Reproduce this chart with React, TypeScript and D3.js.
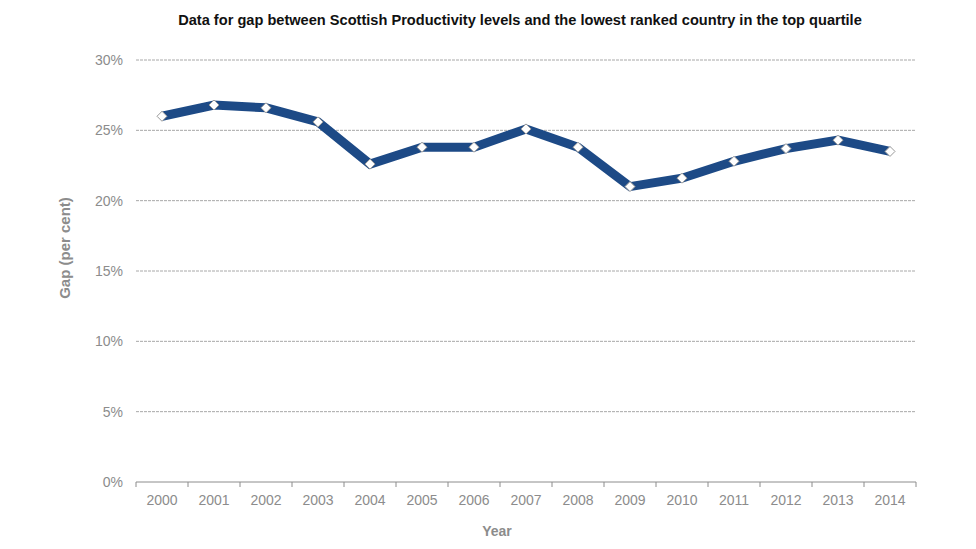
import React, { useRef, useEffect } from 'react';
import * as d3 from 'd3';

// Años y brecha (por ciento)
const years = ['2000', '2001', '2002', '2003', '2004', '2005', '2006', '2007', '2008', '2009', '2010', '2011', '2012', '2013', '2014'];
const gap = [26.0, 26.8, 26.6, 25.6, 22.6, 23.8, 23.8, 25.1, 23.8, 21.0, 21.6, 22.8, 23.7, 24.3, 23.5];
const yTicks = [0, 5, 10, 15, 20, 25, 30];

const title = 'Data for gap between Scottish Productivity levels and the lowest ranked country in the top quartile';

const App = () => {
  const ref = useRef<SVGSVGElement>(null);

  useEffect(() => {
    const svg = d3.select(ref.current);
    const width = 976;
    const height = 549;
    const margin = { top: 60, right: 60, bottom: 67, left: 136 };
    const w = width - margin.left - margin.right;
    const h = height - margin.top - margin.bottom;
    const font = 'Arial, "Liberation Sans", sans-serif';

    svg.selectAll('*').remove();

    const x = d3.scaleBand().domain(years).range([0, w]);
    const y = d3.scaleLinear().domain([0, 30]).range([h, 0]);

    const g = svg.append('g').attr('transform', `translate(${margin.left},${margin.top})`);

    // Líneas de cuadrícula
    g.append('g')
      .selectAll('line')
      .data(yTicks.filter(t => t > 0))
      .join('line')
      .attr('x1', 0)
      .attr('x2', w)
      .attr('y1', d => y(d))
      .attr('y2', d => y(d))
      .attr('stroke', '#a8a8a8')
      .attr('stroke-width', 1)
      .attr('stroke-dasharray', '3,1');

    // Eje Y (solo etiquetas)
    const yAxis = g.append('g').call(d3.axisLeft(y).tickValues(yTicks).tickFormat(d => `${d}%`).tickSize(0).tickPadding(13));
    yAxis.select('.domain').remove();
    yAxis.selectAll('text').attr('fill', '#8c8c8c').style('font-size', '14px').style('font-family', font);

    // Eje X con marcas en los límites de las bandas
    const xAxis = g.append('g').attr('transform', `translate(0,${h})`);
    xAxis.append('line').attr('x1', 0).attr('x2', w).attr('stroke', '#8c8c8c').attr('stroke-width', 1);
    xAxis.selectAll('line.tick')
      .data([...years.map(d => x(d) as number), w])
      .join('line')
      .attr('class', 'tick')
      .attr('x1', d => d)
      .attr('x2', d => d)
      .attr('y1', 0)
      .attr('y2', 5)
      .attr('stroke', '#8c8c8c');
    xAxis.selectAll('text')
      .data(years)
      .join('text')
      .attr('x', d => (x(d) as number) + x.bandwidth() / 2)
      .attr('y', 23)
      .attr('text-anchor', 'middle')
      .attr('fill', '#8c8c8c')
      .style('font-size', '14px')
      .style('font-family', font)
      .text(d => d);

    const data = years.map((d, i) => ({ year: d, value: gap[i] }));
    const line = d3.line<{ year: string; value: number }>()
      .x(d => (x(d.year) as number) + x.bandwidth() / 2)
      .y(d => y(d.value));

    g.append('path')
      .datum(data)
      .attr('d', line)
      .attr('fill', 'none')
      .attr('stroke', '#1d4a86')
      .attr('stroke-width', 9)
      .attr('stroke-linejoin', 'miter');

    // Marcadores en forma de rombo
    g.append('g')
      .selectAll('path')
      .data(data)
      .join('path')
      .attr('transform', d => `translate(${(x(d.year) as number) + x.bandwidth() / 2},${y(d.value)})`)
      .attr('d', 'M0,-5L5,0L0,5L-5,0Z')
      .attr('fill', '#ffffff')
      .attr('stroke', '#9a9a9a')
      .attr('stroke-width', 1);

    // Títulos
    svg.append('text')
      .attr('x', 520)
      .attr('y', 25)
      .attr('text-anchor', 'middle')
      .style('font-size', '14.6px')
      .style('font-weight', 'bold')
      .style('font-family', font)
      .attr('fill', '#111')
      .text(title);

    svg.append('text')
      .attr('x', 497)
      .attr('y', 536)
      .attr('text-anchor', 'middle')
      .style('font-size', '14px')
      .style('font-weight', 'bold')
      .style('font-family', font)
      .attr('fill', '#8c8c8c')
      .text('Year');

    svg.append('text')
      .attr('transform', `translate(70,248) rotate(-90)`)
      .attr('text-anchor', 'middle')
      .style('font-size', '15px')
      .style('font-weight', 'bold')
      .style('font-family', font)
      .attr('fill', '#8c8c8c')
      .text('Gap (per cent)');
  }, []);

  return (
    <svg ref={ref} width={976} height={549} style={{ display: 'block', position: 'absolute', left: 0, top: 0, background: '#fff' }}></svg>
  );
};

export default App;
